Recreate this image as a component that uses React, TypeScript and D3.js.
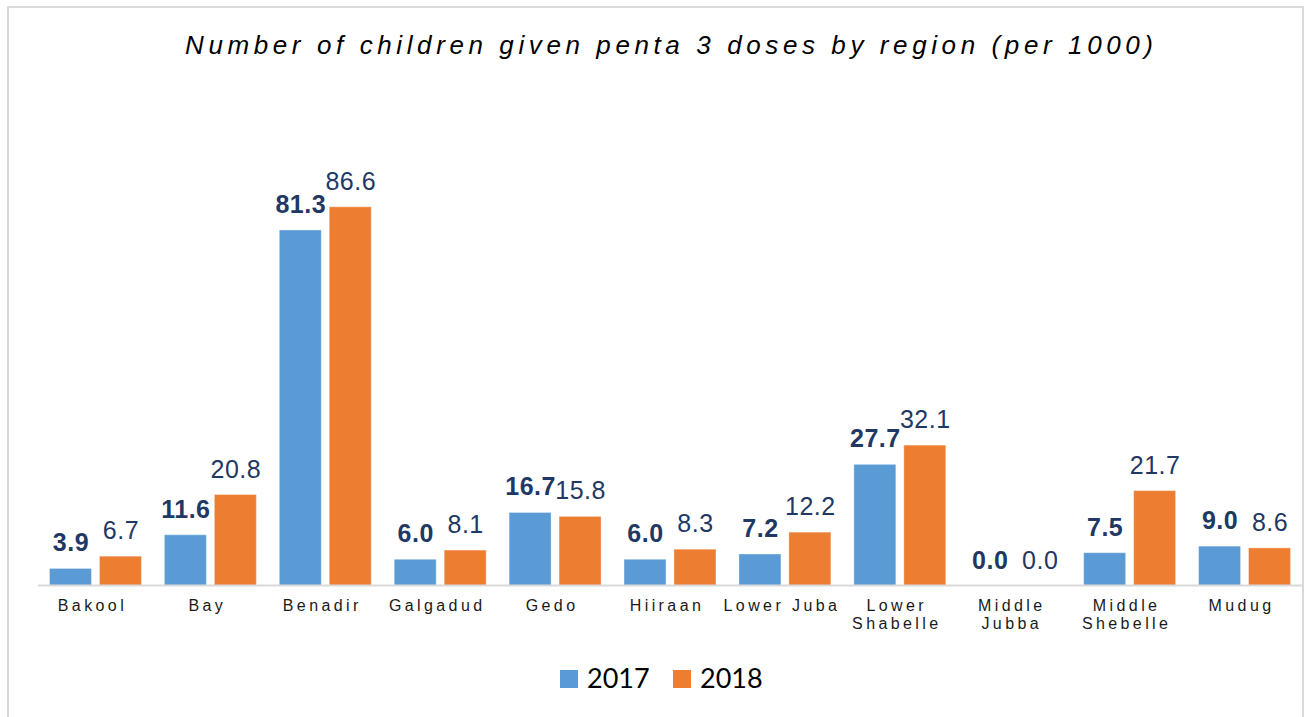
import React from "react";
import * as d3 from "d3";

const categories = [
  "Bakool",
  "Bay",
  "Benadir",
  "Galgadud",
  "Gedo",
  "Hiiraan",
  "Lower Juba",
  "Lower\nShabelle",
  "Middle\nJubba",
  "Middle\nShebelle",
  "Mudug",
];
const years = ["2017", "2018"];
const values2017 = [3.9, 11.6, 81.3, 6.0, 16.7, 6.0, 7.2, 27.7, 0.0, 7.5, 9.0];
const values2018 = [6.7, 20.8, 86.6, 8.1, 15.8, 8.3, 12.2, 32.1, 0.0, 21.7, 8.6];
const colors = ["#5B9BD5", "#ED7D31"];
const title = "Number of children given penta 3 doses by region (per 1000)";

const W = 1309;
const H = 717;
const FONT = "'Liberation Sans', Arial, sans-serif";

export default function App() {
  const x0 = d3.scaleBand<string>().domain(categories).range([38, 1302]).padding(0);
  const x1 = d3
    .scaleBand<string>()
    .domain(years)
    .range([x0.bandwidth() * 0.1, x0.bandwidth() * 0.9])
    .paddingInner(0.16);
  const y = d3.scaleLinear().domain([0, 100]).range([585.5, 148.2]);
  const series = [values2017, values2018];
  const lblLs = 3.4;

  return (
    <svg
      width={W}
      height={H}
      style={{ position: "absolute", left: 0, top: 0, background: "#fff" }}
    >
      <rect x={8} y={7} width={1295} height={H + 10} fill="#fff" stroke="#D9D9D9" strokeWidth={2} />
      <text
        x={185}
        y={54}
        textLength={968}
        lengthAdjust="spacing"
        fontFamily={FONT}
        fontStyle="italic"
        fontSize={26}
        fill="#000"
      >
        {title}
      </text>

      {categories.map((c, i) => (
        <g key={c} transform={`translate(${x0(c)},0)`}>
          {years.map((yr, j) => {
            const v = series[j][i];
            const bx = x1(yr)!;
            const bw = x1.bandwidth();
            return (
              <g key={yr}>
                {v > 0 && (
                  <rect
                    x={bx}
                    y={y(v)}
                    width={bw}
                    height={y(0) - y(v)}
                    fill={colors[j]}
                    stroke="#ffffff"
                    strokeOpacity={0.35}
                    strokeWidth={1}
                  />
                )}
                <text
                  x={bx + bw / 2 + 0.5}
                  y={y(v) - 17}
                  textAnchor="middle"
                  fontFamily={FONT}
                  fontSize={25}
                  fontWeight={j === 0 ? "bold" : "normal"}
                  letterSpacing={0.5}
                  fill="#1F3864"
                >
                  {v.toFixed(1)}
                </text>
              </g>
            );
          })}
          <text
            y={611}
            textAnchor="middle"
            fontFamily={FONT}
            fontSize={16}
            letterSpacing={lblLs}
            fill="#1a1a1a"
          >
            {c.split("\n").map((line, k) => (
              <tspan key={k} x={x0.bandwidth() / 2 - 3} dy={k === 0 ? 0 : 18}>
                {line}
              </tspan>
            ))}
          </text>
        </g>
      ))}

      <line x1={38} x2={1302} y1={y(0)} y2={y(0)} stroke="#D9D9D9" strokeWidth={2} />

      {years.map((yr, j) => {
        const lx = j === 0 ? 560 : 673;
        return (
          <g key={yr}>
            <rect x={lx} y={670} width={18} height={18} fill={colors[j]} />
            <text
              x={lx + 27}
              y={688}
              fontFamily="Lato, Carlito, Calibri, sans-serif"
              fontSize={27}
              fill="#000"
            >
              {yr}
            </text>
          </g>
        );
      })}
    </svg>
  );
}
